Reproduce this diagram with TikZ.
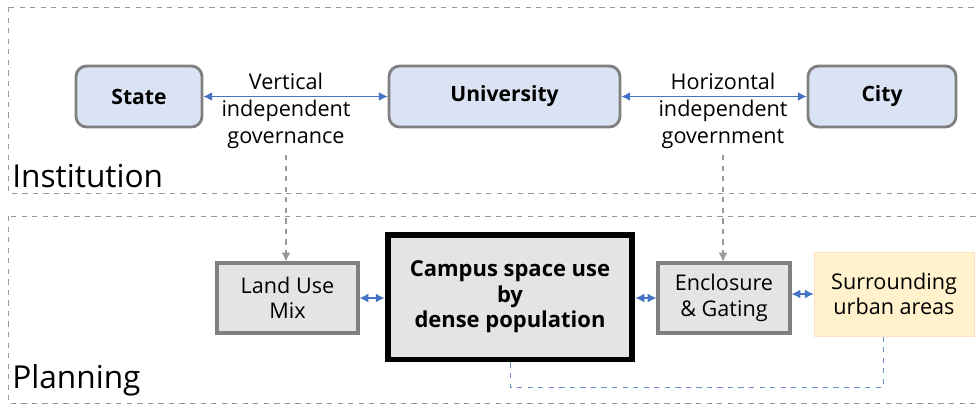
\documentclass[tikz,border=0pt]{standalone}
\usepackage{fontspec}
\setmainfont{Open Sans}
\usetikzlibrary{arrows.meta}

\definecolor{govblue}{HTML}{DAE3F3}
\definecolor{linkblue}{HTML}{4472C4}
\definecolor{boxgray}{HTML}{E4E4E4}
\definecolor{edgegray}{HTML}{808080}
\definecolor{cream}{HTML}{FFF2CC}

\tikzset{
  govbox/.style={draw=edgegray, line width=1.6pt, rounded corners=6pt, fill=govblue,
    font=\fontsize{12}{14}\selectfont\bfseries, minimum height=1.22cm},
  planbox/.style={draw=edgegray, line width=1.8pt, fill=boxgray, align=center,
    font=\fontsize{12.3}{14.5}\selectfont, minimum height=1.4cm},
  link/.style={linkblue, line width=0.6pt, {Latex[length=5pt,width=5pt]}-{Latex[length=5pt,width=5pt]}},
  down/.style={edgegray!80, dashed, line width=0.6pt, -{Latex[length=5pt,width=5pt]}},
  layer/.style={draw=gray!80, dashed, line width=0.5pt},
  tag/.style={align=center, font=\fontsize{12.3}{15.2}\selectfont}
}

\begin{document}
\begin{tikzpicture}[x=0.02cm, y=-0.02cm]

    \useasboundingbox (0,0) rectangle (977,407);
    \clip (0,0) rectangle (977,407);

    % Layers
    \draw[layer] (8,7) rectangle (990,193);
    \draw[layer] (8,216) rectangle (990,403);
    \node[anchor=base west, font=\fontsize{18}{21}\selectfont, inner sep=0pt] (inst) at (12,187) {Institution};
    \node[anchor=base west, font=\fontsize{18}{21}\selectfont, inner sep=0pt] (plan) at (12,388) {Planning};

    % Institution level
    \node[govbox, minimum width=2.52cm] (state) at (139,96.5) {State};
    \node[govbox, minimum width=4.62cm] (univ) at (504.5,96.5) {University};
    \node[govbox, minimum width=2.96cm] (city) at (882,96.5) {City};

    \draw[link] (state) -- (univ);
    \draw[link] (univ) -- (city);

    \node[tag] (vert) at (286,111) {Vertical\\independent\\governance};
    \node[tag] (horiz) at (723,111) {Horizontal\\independent\\government};

    % Planning level
    \node[planbox, minimum width=2.82cm] (mix) at (287.5,298) {Land Use\\Mix};
    \node[draw=black, line width=3.4pt, fill=boxgray, align=center, minimum width=4.9cm,
      minimum height=2.5cm, font=\fontsize{12.5}{14.5}\selectfont\bfseries] (campus) at (510,297)
      {Campus space use\\by\\dense population};
    \node[planbox, minimum width=2.64cm] (gate) at (724,298) {Enclosure\\\& Gating};
    \node[draw=orange!25, line width=0.4pt, fill=cream, align=center, minimum width=3.2cm,
      minimum height=1.68cm, font=\fontsize{12.3}{14.5}\selectfont] (urban) at (894,294)
      {Surrounding\\urban areas};

    \draw[link] (mix) -- (campus.west |- mix);
    \draw[link] (campus.east |- gate) -- (gate);
    \draw[link] (gate.east |- urban) -- (urban);

    % Influence of institutions on planning
    \coordinate (vdown) at (286,155);
    \coordinate (hdown) at (723,155);
    \draw[down] (vdown) -- (mix.north -| vdown);
    \draw[down] (hdown) -- (gate.north -| hdown);

    % Campus and surroundings
    \coordinate (loopl) at (510,387);
    \coordinate (loopr) at (883,387);
    \draw[linkblue!80, dashed, line width=0.5pt] (campus.south) -- (loopl) -- (loopr) -- (urban.south -| loopr);

\end{tikzpicture}
\end{document}
